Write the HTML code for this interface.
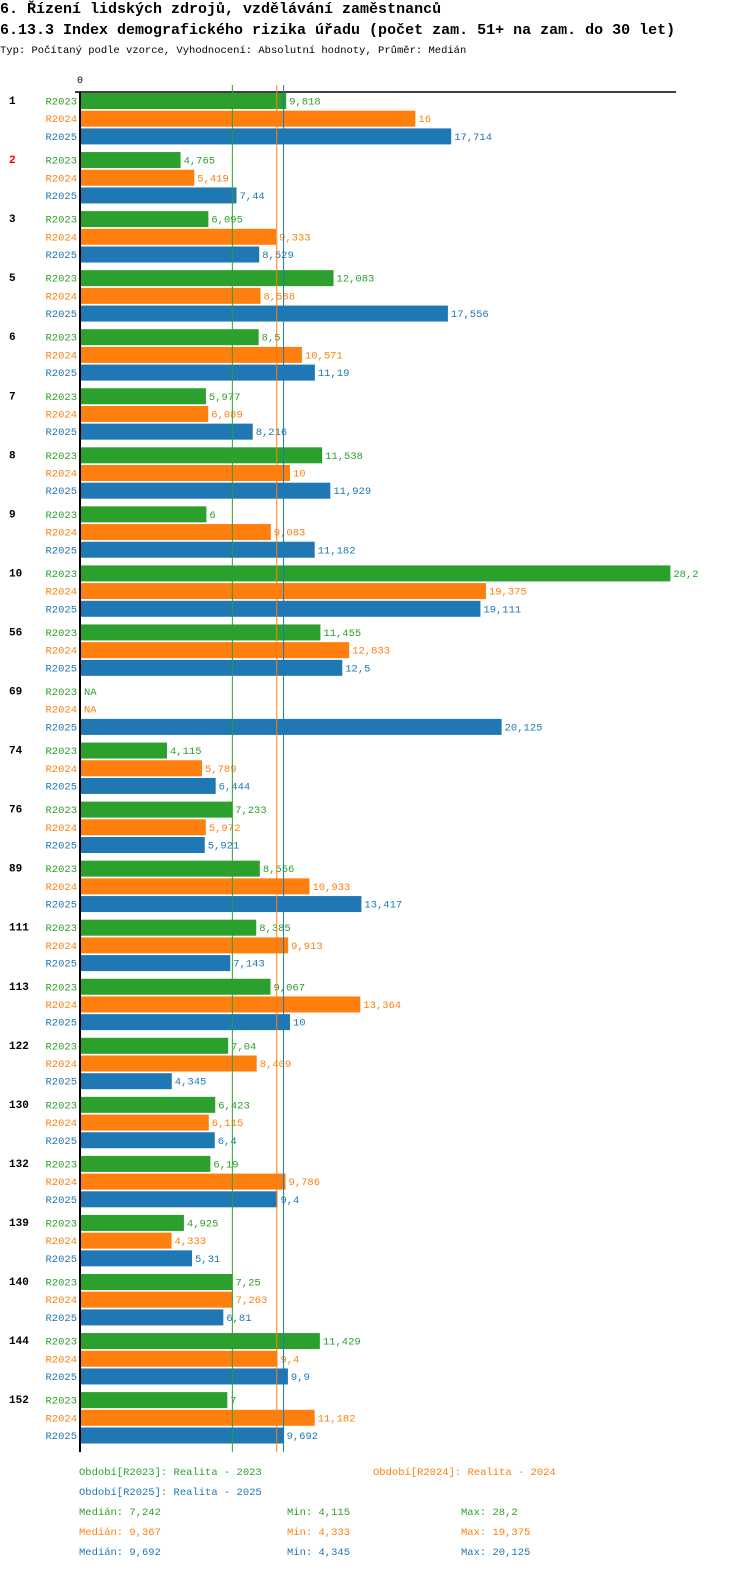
<!DOCTYPE html>
<html style="margin:0;padding:0;width:750px;height:1592px;overflow:hidden"><head><meta charset="utf-8"><style>
html,body{margin:0;padding:0;background:#fff;width:750px;height:1592px;overflow:hidden}
#c{position:absolute;left:0;top:0;display:block}
svg text{font-family:"Liberation Mono","DejaVu Sans Mono",monospace}
</style></head><body>
<svg id="c" width="750" height="1592" viewBox="0 0 750 1592" xmlns="http://www.w3.org/2000/svg">
<text x="0" y="13" font-size="15" font-weight="bold">6. Řízení lidských zdrojů, vzdělávání zaměstnanců</text>
<text x="0" y="34" font-size="15" font-weight="bold">6.13.3 Index demografického rizika úřadu (počet zam. 51+ na zam. do 30 let)</text>
<text x="0" y="53" font-size="10.5">Typ: Počítaný podle vzorce, Vyhodnocení: Absolutní hodnoty, Průměr: Medián</text>
<g id="plot"></g>
<g id="legend"></g>
</svg>
<script>
const groups=["1","2","3","5","6","7","8","9","10","56","69","74","76","89","111","113","122","130","132","139","140","144","152"];
const series=["R2023","R2024","R2025"];
const v2023=[9.818,4.765,6.095,12.083,8.5,5.977,11.538,6,28.2,11.455,null,4.115,7.233,8.556,8.385,9.067,7.04,6.423,6.19,4.925,7.25,11.429,7];
const v2024=[16,5.419,9.333,8.588,10.571,6.089,10,9.083,19.375,12.833,null,5.789,5.972,10.933,9.913,13.364,8.409,6.115,9.786,4.333,7.263,9.4,11.182];
const v2025=[17.714,7.44,8.529,17.556,11.19,8.216,11.929,11.182,19.111,12.5,20.125,6.444,5.921,13.417,7.143,10,4.345,6.4,9.4,5.31,6.81,9.9,9.692];
const medians=[7.242,9.367,9.692];
const mins=[4.115,4.333,4.345];
const maxs=[28.2,19.375,20.125];
const colors=["#2ca02c","#ff7f0e","#1f77b4"];
const NS="http://www.w3.org/2000/svg";
const plot=document.getElementById('plot'),leg=document.getElementById('legend');
const x0=81,k=20.9;
const X=v=>x0+v*k;
const gy=i=>93+i*59.05;
const fmt=v=>String(v).replace('.',',');
function el(t,a,p,txt){const e=document.createElementNS(NS,t);for(const q in a)e.setAttribute(q,a[q]);if(txt!=null)e.textContent=txt;p.appendChild(e);return e;}
const vals=[v2023,v2024,v2025];
const bottom=gy(groups.length-1)+52+8;
const tl=el('line',{x1:75,y1:92,x2:676,y2:92,stroke:'#000','stroke-width':1.5},plot);


const z=el('text',{x:x0-4,y:83,'font-size':10},plot,'0');


groups.forEach((g,i)=>{
  const y=gy(i);
  const gl=el('text',{x:9,y:y+11,'font-size':11,'font-weight':'bold',fill:g==="2"?"#e00":"#000"},plot,g);
  
  
  for(let s=0;s<3;s++){
    const yy=y+s*17.7;const v=vals[s][i];
    const sl=el('text',{x:77,y:yy+11.5,'font-size':10.5,fill:colors[s],'text-anchor':'end'},plot,series[s]);
    
    
    if(v==null){
      const t=el('text',{x:x0+3,y:yy+11.5,'font-size':10.5,fill:colors[s]},plot,'NA');
      
      
      continue;
    }
    const r=el('rect',{x:x0,y:yy,width:X(v)-x0,height:16,fill:colors[s]},plot);
    
    
    const t=el('text',{x:X(v)+3,y:yy+11.5,'font-size':10.5,fill:colors[s]},plot,fmt(v));
    
    
  }
});
medians.forEach((m,s)=>{
  const l=el('line',{x1:X(m),y1:85,x2:X(m),y2:bottom,stroke:colors[s],'stroke-width':1},plot);
  
  
});
const ax=el('line',{x1:x0-1,y1:92,x2:x0-1,y2:bottom,stroke:'#000','stroke-width':2},plot);


const LT=[[79,1475,0,'Období[R2023]: Realita - 2023'],[373,1475,1,'Období[R2024]: Realita - 2024'],[79,1495,2,'Období[R2025]: Realita - 2025']];
LT.forEach(a=>{const t=el('text',{x:a[0],y:a[1],'font-size':10.5,fill:colors[a[2]]},leg,a[3]);

});
for(let s=0;s<3;s++){
  const y=1515+s*20;
  const a=el('text',{x:79,y:y,'font-size':10.5,fill:colors[s]},leg,'Medián: '+fmt(medians[s]));
  
  
  const b=el('text',{x:287,y:y,'font-size':10.5,fill:colors[s]},leg,'Min: '+fmt(mins[s]));
  
  
  const c=el('text',{x:461,y:y,'font-size':10.5,fill:colors[s]},leg,'Max: '+fmt(maxs[s]));
  
  
}
</script>
</body></html>
